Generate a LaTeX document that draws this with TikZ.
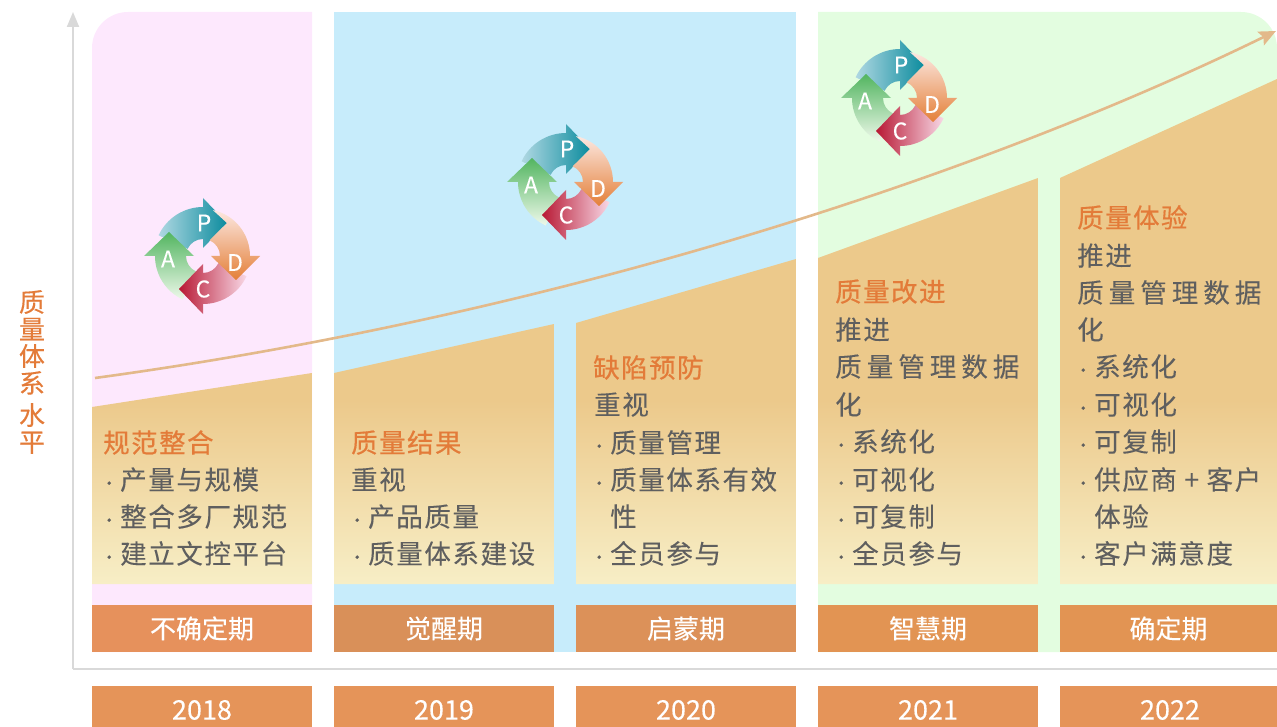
\documentclass[tikz,border=0pt]{standalone}
\usepackage{fontspec}
\usetikzlibrary{arrows.meta}
\setmainfont{Noto Sans CJK SC}
\newfontfamily\cjk[LetterSpace=6,FakeBold=0.1]{Noto Sans CJK SC}
\newfontfamily\cjkwide[LetterSpace=19,FakeBold=0.1]{Noto Sans CJK SC}
\newfontfamily\cjkhead[LetterSpace=5.5,FakeBold=0.5]{Noto Sans CJK SC}
\newfontfamily\cjklab[FakeBold=0.15]{Noto Sans CJK SC}
\newfontfamily\cjkax[FakeBold=0.3]{Noto Sans CJK SC}
\definecolor{pinkbg}{HTML}{FDE8FD}
\definecolor{bluebg}{HTML}{C7ECFB}
\definecolor{greenbg}{HTML}{E3FDE0}
\definecolor{tantop}{HTML}{ECC98B}
\definecolor{tanbot}{HTML}{F7EEC6}
\definecolor{axisgray}{HTML}{D9D9D9}
\definecolor{curvecol}{HTML}{E3B98A}
\definecolor{headcol}{HTML}{E37B39}
\definecolor{bodycol}{HTML}{5F5F5F}
\definecolor{labA}{HTML}{E6915C}
\definecolor{labB}{HTML}{D99059}
\definecolor{labC}{HTML}{DC9159}
\definecolor{labD}{HTML}{E29453}
\definecolor{yearcol}{HTML}{E59459}
\tikzset{
  lab/.style={inner sep=0pt,text=white,font=\cjklab\fontsize{26}{26}\selectfont},
  yr/.style={inner sep=0pt,text=white,font=\cjklab\fontsize{27}{27}\selectfont},
  head/.style={inner sep=0pt,anchor=base west,yshift=-0.6pt,text=headcol,font=\cjkhead\fontsize{26.5}{26.5}\selectfont},
  body/.style={inner sep=0pt,anchor=base west,yshift=-0.6pt,text=bodycol,font=\cjk\fontsize{26.5}{26.5}\selectfont},
  bodywide/.style={inner sep=0pt,anchor=base west,yshift=-0.6pt,text=bodycol,font=\cjkwide\fontsize{26.5}{26.5}\selectfont},
  pdcal/.style={inner sep=0pt,text=white,font=\cjklab\fontsize{23}{23}\selectfont},
  axisline/.style={draw=axisgray,line width=2pt},
}
\newcommand{\dotm}{\makebox[10pt][c]{\fontsize{17}{17}\selectfont·}\hspace{6pt}}
\newcommand{\tanpanel}[4]{%
  \begin{scope}
    \clip (#1,#2) -- (#3,#4) -- (#3,584) -- (#1,584) -- cycle;
    \fill[tantop] (#1,0) rectangle (#3,400);
    \shade[top color=tantop,bottom color=tanbot] (#1,400) rectangle (#3,584);
  \end{scope}}
\newcommand{\pdcaglyph}[3]{%
  \begin{scope}[shift={(#1,#2)},x=1pt,y=1pt]
    % P
    \shade[left color=pdcaPl,right color=pdcaPd] (0,58) -- (24,33) -- (0,8) -- (0,17)
      arc[start angle=90,end angle=155,radius=17pt] -- (155:49) arc[start angle=155,end angle=90,radius=49pt] -- cycle;
    % A
    \begin{scope}[rotate=90]
    \shade[top color=pdcaAd,bottom color=pdcaAl] (0,59) -- (24,34) -- (0,9) -- (0,17)
      arc[start angle=90,end angle=155,radius=17pt] -- (155:48) arc[start angle=155,end angle=90,radius=48pt] -- cycle;
    \end{scope}
    % C
    \begin{scope}[rotate=180]
    \shade[left color=pdcaCd,right color=pdcaCl] (0,58) -- (24,33) -- (0,8) -- (0,17)
      arc[start angle=90,end angle=155,radius=17pt] -- (155:48) arc[start angle=155,end angle=90,radius=48pt] -- cycle;
    \end{scope}
    % D
    \begin{scope}[rotate=-90]
    \shade[top color=pdcaDl,middle color=pdcaDm,bottom color=pdcaDd] (0,57) -- (24,33) -- (0,8) -- (0,17)
      arc[start angle=90,end angle=157,radius=17pt] -- (-33,24) -- (168:47) arc[start angle=168,end angle=90,radius=47pt] -- cycle;
    \end{scope}
    \node[pdcal] (#3P) at (1,33) {P};
    \node[pdcal] (#3D) at (32,-6.5) {D};
    \node[pdcal] (#3C) at (0,-33) {C};
    \node[pdcal] (#3A) at (-35,-3) {A};
  \end{scope}}
\definecolor{pdcaPl}{HTML}{B0D8E2}
\definecolor{pdcaPd}{HTML}{0C8C9E}
\definecolor{pdcaDl}{HTML}{FCE8E2}
\definecolor{pdcaDm}{HTML}{F5CDBA}
\definecolor{pdcaDd}{HTML}{E47F38}
\definecolor{pdcaCl}{HTML}{F8D8E6}
\definecolor{pdcaCd}{HTML}{B81934}
\definecolor{pdcaAl}{HTML}{EEF8EA}
\definecolor{pdcaAd}{HTML}{52B560}
\begin{document}
\begin{tikzpicture}[x=1pt,y=-1pt]
\useasboundingbox (0,0) rectangle (1277,727);
% backgrounds
\fill[pinkbg] (92,652) [rounded corners=36pt] -- (92,12) [sharp corners] -- (312,12) -- (312,652) -- cycle;
\fill[bluebg] (334,12) rectangle (796,652);
\fill[greenbg] (818,652) -- (818,12) [rounded corners=36pt] -- (1277,12) [sharp corners] -- (1277,652) -- cycle;
% tan panels
\tanpanel{92}{407}{312}{373}
\tanpanel{334}{373}{554}{324}
\tanpanel{576}{323}{796}{259}
\tanpanel{818}{258}{1038}{178}
\tanpanel{1060}{178}{1277}{79}
% axes
\coordinate (origin) at (73,669);
\coordinate (ytop) at (73,12);
\coordinate (xend) at (1277,669);
\draw[axisline,-{Triangle[length=15pt,width=12pt]}] (origin) -- (ytop);
\draw[axisline] (origin) -- (xend);
% y label
\node[inner sep=0pt,align=center,text=headcol,font=\cjkax\fontsize{26}{27}\selectfont] (ylabel) at (32,372)
  {质\\量\\体\\系\\[5pt]水\\平};
% phase labels
\node[fill=labA,minimum width=220pt,minimum height=47pt,lab] (ph1) at (202,628.5) {\raisebox{-1pt}{不确定期}};
\node[fill=labB,minimum width=220pt,minimum height=47pt,lab] (ph2) at (444,628.5) {\raisebox{-1pt}{觉醒期}};
\node[fill=labC,minimum width=220pt,minimum height=47pt,lab] (ph3) at (686,628.5) {\raisebox{-1pt}{启蒙期}};
\node[fill=labD,minimum width=220pt,minimum height=47pt,lab] (ph4) at (928,628.5) {\raisebox{-1pt}{智慧期}};
\node[fill=labD,minimum width=217pt,minimum height=47pt,lab] (ph5) at (1168.5,628.5) {\raisebox{-1pt}{确定期}};
% years
\fill[yearcol] (92,686) rectangle (312,727);
\fill[yearcol] (334,686) rectangle (554,727);
\fill[yearcol] (576,686) rectangle (796,727);
\fill[yearcol] (818,686) rectangle (1038,727);
\fill[yearcol] (1060,686) rectangle (1277,727);
\node[yr] (y1) at (202,710) {2018};
\node[yr] (y2) at (444,710) {2019};
\node[yr] (y3) at (686,710) {2020};
\node[yr] (y4) at (928,710) {2021};
\node[yr] (y5) at (1170,710) {2022};
% panel 1
\node[head] (a0) at (103,452) {规范整合};
\node[body] (a1) at (104,489) {\dotm 产量与规模};
\node[body] (a2) at (104,526) {\dotm 整合多厂规范};
\node[body] (a3) at (104,563) {\dotm 建立文控平台};
% panel 2
\node[head] (b0) at (351,452) {质量结果};
\node[body] (b1) at (351,489) {重视};
\node[body] (b2) at (352,526) {\dotm 产品质量};
\node[body] (b3) at (352,563) {\dotm 质量体系建设};
% panel 3
\node[head] (c0) at (593,377) {缺陷预防};
\node[body] (c1) at (594,414) {重视};
\node[body] (c2) at (594,452) {\dotm 质量管理};
\node[body] (c3) at (594,489) {\dotm 质量体系有效};
\node[body] (c4) at (610,526) {性};
\node[body] (c5) at (594,563) {\dotm 全员参与};
% panel 4
\node[head] (d0) at (835,301) {质量改进};
\node[body] (d1) at (835,339) {推进};
\node[bodywide] (d2) at (835,376) {质量管理数据};
\node[body] (d3) at (835,414) {化};
\node[body] (d4) at (836,451) {\dotm 系统化};
\node[body] (d5) at (836,489) {\dotm 可视化};
\node[body] (d6) at (836,526) {\dotm 可复制};
\node[body] (d7) at (836,563) {\dotm 全员参与};
% panel 5
\node[head] (e0) at (1077,227) {质量体验};
\node[body] (e1) at (1077,265) {推进};
\node[bodywide] (e2) at (1077,302) {质量管理数据};
\node[body] (e3) at (1077,339) {化};
\node[body] (e4) at (1078,376) {\dotm 系统化};
\node[body] (e5) at (1078,414) {\dotm 可视化};
\node[body] (e6) at (1078,451) {\dotm 可复制};
\node[body] (e7) at (1078,489) {\dotm 供应商 + 客户};
\node[body] (e8) at (1094,526) {体验};
\node[body] (e9) at (1078,563) {\dotm 客户满意度};
% PDCA wheels
\pdcaglyph{203}{256}{w1}
\pdcaglyph{566}{182}{w2}
\pdcaglyph{900}{98}{w3}
% curve
\coordinate (cstart) at (95,378);
\coordinate (cend) at (1276,31);
\draw[curvecol,line width=2.6pt,-{Stealth[length=17pt,width=15pt,inset=3pt]}] (cstart) .. controls (550,316) and (975,178) .. (cend);
\end{tikzpicture}
\end{document}
